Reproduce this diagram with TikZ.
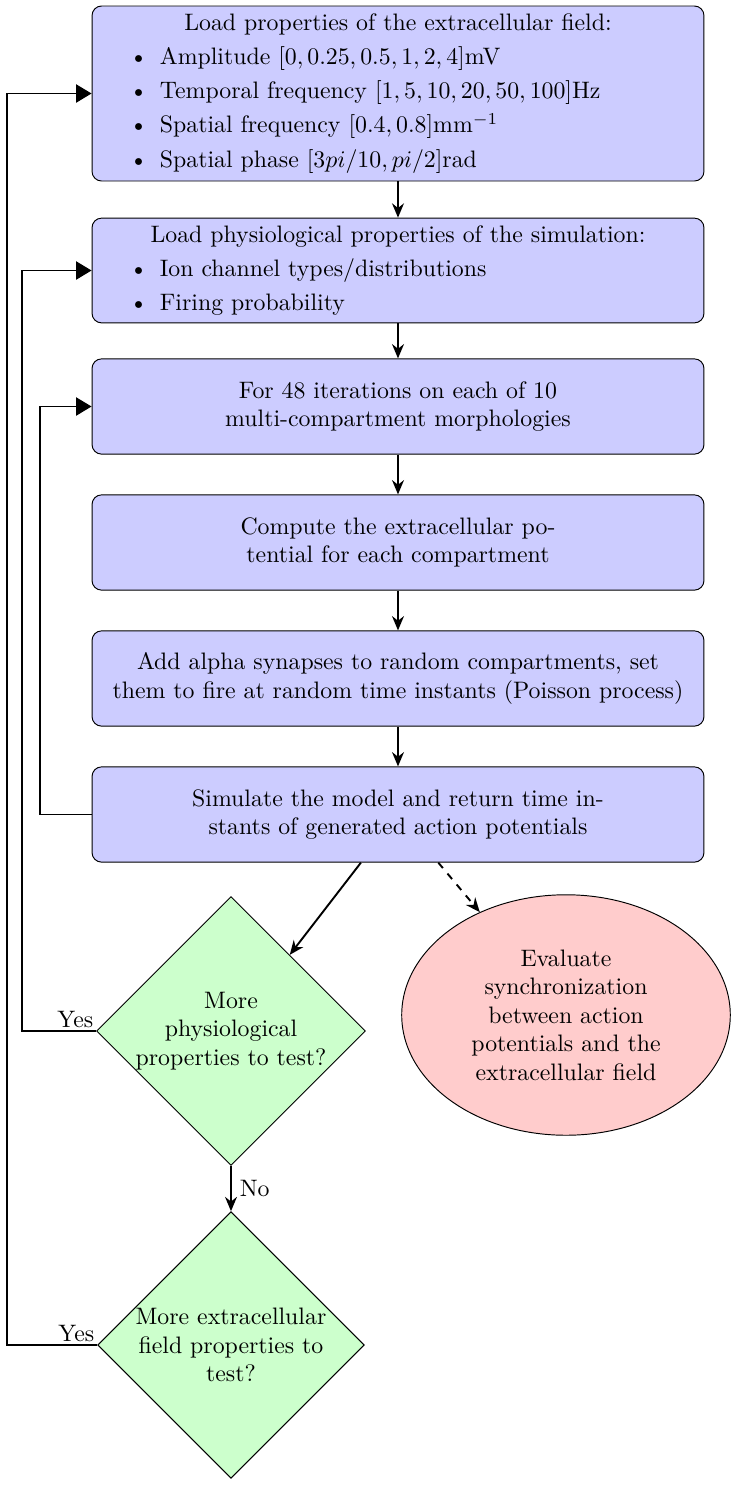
\documentclass[tikz,border=0pt]{standalone}
\usepackage{enumitem}
\usetikzlibrary{shapes.geometric,arrows.meta}

\setlist[itemize]{leftmargin=25pt,itemsep=2.3pt,parsep=0pt,topsep=2.3pt,partopsep=0pt}

\begin{document}
\begin{tikzpicture}[x=0.42pt, y=-0.42pt,
  listbox/.style={draw, rounded corners=4pt, fill=blue!20, text width=250pt, minimum width=257pt, inner ysep=2.5pt},
  stepbox/.style={draw, rounded corners=4pt, fill=blue!20, text width=250pt, minimum width=257pt, minimum height=40pt, align=center},
  decision/.style={diamond, draw, fill=green!20, inner sep=0pt, minimum size=112pt, align=center},
  result/.style={ellipse, draw, fill=red!20, minimum width=138pt, minimum height=101pt, align=center},
  flow/.style={thick, -{Stealth[length=6pt,width=5pt]}},
  back/.style={thick, -{Triangle[length=6.5pt,width=7.6pt]}}]

\useasboundingbox (0,0) rectangle (735,1485);

\coordinate (P1) at (398,93.5);
\coordinate (P2) at (398,270.5);
\coordinate (P3) at (398,406.5);
\coordinate (P4) at (398,542.5);
\coordinate (P5) at (398,678.5);
\coordinate (P6) at (398,814.5);
\coordinate (Q1) at (231,1031);
\coordinate (Q2) at (231,1345);
\coordinate (R) at (566,1015);

\coordinate (L1) at (7,1345);
\coordinate (L2) at (22,1031);
\coordinate (L3) at (40,814.5);

\node [listbox, minimum height=73.5pt] (field) at (P1) {{\centering Load properties of the extracellular field:\par}
\begin{itemize}
\item Amplitude $[0, 0.25, 0.5, 1, 2, 4]$mV
\item Temporal frequency $[1, 5, 10, 20, 50, 100]$Hz
\item Spatial frequency $[0.4, 0.8]$mm$^{-1}$
\item Spatial phase $[3pi/10, pi/2]$rad
\end{itemize}};

\node [listbox, minimum height=44pt] (physio) at (P2) {{\centering Load physiological properties of the simulation:\par}
\begin{itemize}
\item Ion channel types/distributions
\item Firing probability
\end{itemize}};

\node [stepbox] (iter) at (P3) {For 48 iterations on each of 10\\multi-compartment morphologies};
\node [stepbox] (potential) at (P4) {Compute the extracellular po-\\tential for each compartment};
\node [stepbox] (synapse) at (P5) {Add alpha synapses to random compartments, set\\them to fire at random time instants (Poisson process)};
\node [stepbox] (simulate) at (P6) {Simulate the model and return time in-\\stants of generated action potentials};

\node [decision] (ask1) at (Q1) {More\\physiological\\properties to test?};
\node [decision] (ask2) at (Q2) {More extracellular\\field properties to\\test?};
\node [result] (sync) at (R) {Evaluate\\synchronization\\between action\\potentials and the\\extracellular field};

\draw [flow] (field) -- (physio);
\draw [flow] (physio) -- (iter);
\draw [flow] (iter) -- (potential);
\draw [flow] (potential) -- (synapse);
\draw [flow] (synapse) -- (simulate);
\draw [flow] (simulate) -- (ask1);
\draw [flow, dashed] (simulate) -- (sync);
\draw [flow] (ask1) -- node [right] {No} (ask2);

\draw [back] (simulate.west) -- (L3) |- (iter.west);
\draw [back] (ask1.west) -- (L2) |- (physio.west);
\draw [back] (ask2.west) -- (L1) |- (field.west);

\node [above left, inner sep=1pt] at (ask1.west) {Yes};
\node [above left, inner sep=1pt] at (ask2.west) {Yes};

\end{tikzpicture}
\end{document}
